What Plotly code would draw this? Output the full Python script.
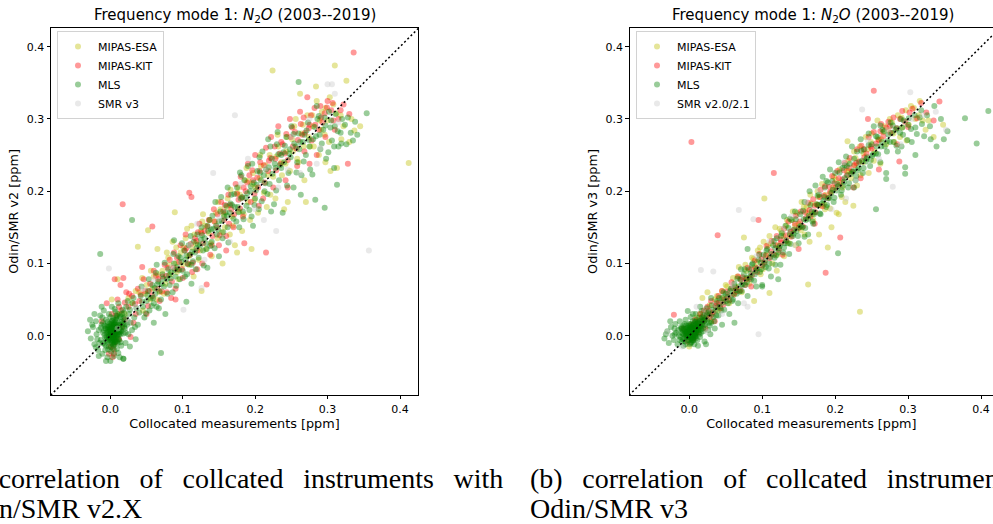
import plotly.graph_objects as go

# Odin/SMR v2 panel: (collocated, SMR v2) pairs in ppm
esa_v2 = [(0.002, 0.050), (0.010, 0.078), (0.020, 0.030), (0.030, 0.045), (0.038, 0.123), (0.040, 0.060),
          (0.045, 0.035), (0.050, 0.070), (0.052, 0.146), (0.055, 0.050), (0.060, 0.082), (0.065, 0.120),
          (0.068, 0.060), (0.072, 0.090), (0.076, 0.072), (0.080, 0.108), (0.083, 0.085), (0.086, 0.130),
          (0.089, 0.171), (0.090, 0.100), (0.094, 0.078), (0.097, 0.115), (0.100, 0.098), (0.104, 0.135),
          (0.108, 0.110), (0.112, 0.152), (0.115, 0.082), (0.118, 0.128), (0.122, 0.105), (0.125, 0.145),
          (0.128, 0.168), (0.132, 0.120), (0.136, 0.142), (0.140, 0.110), (0.144, 0.158), (0.148, 0.135),
          (0.152, 0.175), (0.155, 0.100), (0.158, 0.150), (0.162, 0.190), (0.165, 0.140), (0.168, 0.165),
          (0.172, 0.125), (0.175, 0.198), (0.178, 0.172), (0.182, 0.145), (0.186, 0.215), (0.190, 0.185),
          (0.193, 0.160), (0.197, 0.225), (0.200, 0.205), (0.204, 0.170), (0.208, 0.235), (0.212, 0.198),
          (0.216, 0.178), (0.220, 0.250), (0.224, 0.367), (0.225, 0.220), (0.228, 0.190), (0.232, 0.262),
          (0.236, 0.240), (0.240, 0.175), (0.244, 0.275), (0.248, 0.228), (0.252, 0.255), (0.256, 0.300),
          (0.260, 0.240), (0.264, 0.280), (0.268, 0.215), (0.272, 0.305), (0.276, 0.262), (0.280, 0.290),
          (0.284, 0.345), (0.288, 0.250), (0.292, 0.310), (0.296, 0.278), (0.300, 0.298), (0.304, 0.228),
          (0.308, 0.320), (0.310, 0.374), (0.313, 0.232), (0.318, 0.305), (0.326, 0.353), (0.330, 0.268),
          (0.337, 0.284), (0.412, 0.239), (0.345, 0.290), (0.285, 0.325), (0.175, 0.115), (0.245, 0.185),
          (0.126, 0.062), (0.048, 0.058), (0.058, 0.065), (0.066, 0.085), (0.074, 0.058), (0.082, 0.098),
          (0.092, 0.088), (0.101, 0.122), (0.109, 0.098), (0.116, 0.140), (0.124, 0.118), (0.131, 0.152),
          (0.139, 0.128), (0.146, 0.170), (0.154, 0.143), (0.161, 0.178), (0.169, 0.152), (0.177, 0.205),
          (0.184, 0.168), (0.191, 0.214), (0.199, 0.188), (0.206, 0.218), (0.214, 0.236), (0.221, 0.195),
          (0.229, 0.248), (0.237, 0.222), (0.243, 0.255), (0.251, 0.272), (0.258, 0.245), (0.266, 0.292),
          (0.274, 0.275), (0.281, 0.262), (0.289, 0.298), (0.297, 0.315), (0.302, 0.268), (0.312, 0.308),
          (0.322, 0.290), (0.262, 0.335), (0.195, 0.120), (0.270, 0.185), (0.012, 0.030), (0.025, 0.052),
          (0.035, 0.062), (0.044, 0.080), (0.056, 0.090), (0.064, 0.050), (0.078, 0.115), (0.091, 0.122),
          (0.106, 0.148), (0.113, 0.122), (0.127, 0.158), (0.137, 0.160), (0.149, 0.185), (0.157, 0.168),
          (0.166, 0.202), (0.179, 0.195), (0.188, 0.232), (0.196, 0.210), (0.207, 0.250), (0.218, 0.222),
          (0.231, 0.278), (0.242, 0.238), (0.254, 0.290), (0.267, 0.262), (0.279, 0.305), (0.291, 0.285),
          (0.303, 0.330), (0.319, 0.272), (0.333, 0.300), (0.297, 0.240)]

kit_v2 = [(-0.012, 0.020), (-0.005, 0.045), (0.000, -0.015), (0.002, 0.030), (0.005, -0.025), (0.008, 0.012),
          (0.010, 0.050), (0.012, -0.005), (0.015, 0.035), (0.018, 0.080), (0.020, 0.022), (0.022, 0.060),
          (0.025, 0.040), (0.028, -0.002), (0.030, 0.055), (0.003, -0.030), (0.006, 0.078), (0.014, 0.070),
          (0.035, 0.030), (0.038, 0.065), (0.040, 0.048), (0.044, 0.095), (0.048, 0.062), (0.050, 0.030),
          (0.055, 0.072), (0.058, 0.055), (0.060, 0.090), (0.065, 0.065), (0.068, 0.048), (0.072, 0.082),
          (0.075, 0.098), (0.078, 0.060), (0.082, 0.105), (0.085, 0.075), (0.088, 0.115), (0.090, 0.065),
          (0.093, 0.092), (0.097, 0.125), (0.100, 0.080), (0.104, 0.140), (0.107, 0.100), (0.110, 0.112),
          (0.113, 0.088), (0.117, 0.135), (0.120, 0.118), (0.123, 0.155), (0.127, 0.100), (0.130, 0.145),
          (0.133, 0.071), (0.136, 0.160), (0.140, 0.125), (0.143, 0.175), (0.147, 0.150), (0.150, 0.125),
          (0.153, 0.185), (0.157, 0.160), (0.160, 0.138), (0.163, 0.195), (0.167, 0.175), (0.170, 0.150),
          (0.173, 0.210), (0.177, 0.188), (0.180, 0.220), (0.183, 0.165), (0.187, 0.200), (0.190, 0.238),
          (0.194, 0.185), (0.197, 0.215), (0.200, 0.250), (0.204, 0.205), (0.207, 0.240), (0.211, 0.190),
          (0.215, 0.260), (0.215, 0.115), (0.218, 0.228), (0.222, 0.275), (0.225, 0.205), (0.228, 0.245),
          (0.232, 0.290), (0.235, 0.238), (0.238, 0.265), (0.242, 0.215), (0.245, 0.243), (0.248, 0.300),
          (0.252, 0.262), (0.255, 0.282), (0.258, 0.235), (0.262, 0.310), (0.265, 0.278), (0.268, 0.255),
          (0.272, 0.330), (0.275, 0.292), (0.278, 0.270), (0.282, 0.315), (0.285, 0.250), (0.290, 0.318),
          (0.293, 0.295), (0.297, 0.275), (0.300, 0.325), (0.305, 0.312), (0.310, 0.285), (0.315, 0.300),
          (0.322, 0.320), (0.330, 0.307), (0.328, 0.238), (0.336, 0.392), (0.017, 0.182), (0.109, 0.198),
          (0.112, 0.192), (0.058, 0.151), (0.185, 0.128), (0.005, 0.002), (-0.002, -0.025), (0.275, 0.238),
          (0.032, 0.018), (0.046, 0.078), (0.052, 0.041), (0.063, 0.083), (0.071, 0.061), (0.079, 0.094),
          (0.084, 0.052), (0.092, 0.108), (0.099, 0.092), (0.105, 0.121), (0.114, 0.101), (0.121, 0.143),
          (0.128, 0.128), (0.138, 0.112), (0.144, 0.158), (0.151, 0.139), (0.158, 0.181), (0.164, 0.155),
          (0.171, 0.168), (0.179, 0.176), (0.184, 0.205), (0.192, 0.222), (0.199, 0.196), (0.206, 0.228),
          (0.213, 0.212), (0.221, 0.246), (0.229, 0.229), (0.236, 0.268), (0.241, 0.252), (0.249, 0.275),
          (0.257, 0.259), (0.263, 0.293), (0.269, 0.281), (0.277, 0.305), (0.283, 0.292), (0.291, 0.302),
          (0.299, 0.316), (0.308, 0.298), (0.318, 0.312), (0.245, 0.205), (0.205, 0.180), (0.160, 0.118),
          (0.120, 0.092), (0.090, 0.050), (0.004, -0.018), (0.006, -0.010), (0.008, 0.028), (0.012, 0.040),
          (0.016, 0.012), (0.020, 0.046), (0.026, 0.058), (0.034, 0.044), (0.042, 0.057), (0.054, 0.062),
          (0.066, 0.078), (0.077, 0.083), (0.087, 0.094), (0.095, 0.102), (0.103, 0.118), (0.111, 0.127),
          (0.119, 0.131), (0.126, 0.142), (0.134, 0.151), (0.141, 0.138), (0.148, 0.168), (0.156, 0.172),
          (0.165, 0.181), (0.175, 0.196), (0.182, 0.191), (0.189, 0.212), (0.196, 0.229), (0.203, 0.219),
          (0.212, 0.236), (0.219, 0.242), (0.227, 0.262), (0.234, 0.252), (0.243, 0.279), (0.251, 0.288),
          (0.259, 0.271), (0.267, 0.302), (0.274, 0.287), (0.288, 0.285), (0.296, 0.308), (0.307, 0.322)]

mls_v2 = [(-0.031, 0.006), (-0.027, -0.004), (-0.024, 0.012), (-0.022, -0.012), (-0.020, 0.020), (-0.019, 0.002),
          (-0.017, -0.020), (-0.016, 0.008), (-0.014, 0.028), (-0.013, -0.006), (-0.012, 0.015), (-0.011, -0.025),
          (-0.010, 0.004), (-0.009, 0.035), (-0.008, -0.012), (-0.007, 0.010), (-0.006, 0.022), (-0.005, -0.002),
          (-0.004, -0.030), (-0.004, 0.014), (-0.003, 0.005), (-0.002, -0.015), (-0.002, 0.030), (-0.001, 0.000),
          (0.000, 0.009), (0.000, -0.008), (0.001, 0.018), (0.001, -0.022), (0.002, 0.003), (0.002, 0.040),
          (0.003, -0.004), (0.003, 0.012), (0.004, 0.025), (0.004, -0.012), (0.005, 0.006), (0.005, -0.028),
          (0.006, 0.016), (0.006, 0.001), (0.007, 0.033), (0.007, -0.008), (0.008, 0.010), (0.009, 0.022),
          (0.009, -0.018), (0.010, 0.004), (0.011, 0.045), (0.012, 0.014), (0.012, -0.006), (0.013, 0.028),
          (0.014, 0.008), (0.015, -0.014), (0.016, 0.020), (0.017, 0.036), (0.018, -0.032), (0.018, 0.003),
          (0.019, 0.012), (0.020, 0.025), (0.021, -0.010), (0.022, 0.040), (0.023, 0.015), (0.025, 0.002),
          (0.026, 0.030), (0.028, 0.018), (0.030, 0.008), (0.031, 0.045), (0.033, 0.025), (0.035, -0.005),
          (0.036, 0.038), (0.038, 0.015), (-0.015, -0.010), (-0.025, 0.015), (0.000, -0.035), (-0.006, -0.035),
          (0.001, 0.002), (0.003, 0.007), (-0.002, 0.004), (0.004, -0.003), (0.000, 0.012), (0.006, -0.006),
          (-0.004, -0.008), (0.008, 0.004), (0.002, -0.011), (-0.006, 0.010), (0.005, 0.015), (0.010, -0.002),
          (-0.001, -0.004), (0.007, 0.019), (-0.008, 0.001), (0.012, 0.008), (0.003, 0.021), (-0.003, -0.019),
          (0.009, 0.012), (0.014, 0.002), (-0.010, 0.018), (0.016, 0.030), (-0.018, -0.005), (0.020, 0.010),
          (-0.022, 0.030), (0.024, 0.048), (0.027, -0.015), (-0.028, 0.022), (0.032, 0.052), (0.034, 0.012),
          (0.000, 0.026), (0.006, 0.037), (-0.012, 0.040), (0.011, -0.024), (-0.016, -0.028), (0.013, -0.030),
          (0.002, 0.001), (0.004, 0.004), (0.001, -0.003), (0.005, 0.001), (-0.001, 0.006), (0.003, -0.006),
          (0.006, 0.008), (0.000, 0.003), (0.007, -0.002), (-0.003, 0.001), (0.002, 0.009), (0.004, -0.009),
          (0.008, 0.006), (-0.002, -0.006), (0.005, 0.012), (0.001, 0.014), (0.009, 0.001), (-0.005, 0.004),
          (0.006, -0.012), (0.003, 0.017), (0.010, 0.010), (-0.004, 0.012), (0.011, -0.005), (-0.007, -0.003),
          (0.013, 0.015), (0.001, -0.016), (0.008, 0.024), (-0.009, 0.007), (0.015, 0.006), (0.004, 0.002),
          (0.002, 0.005), (0.006, 0.003), (0.000, -0.001), (0.003, 0.011), (0.005, -0.004), (0.007, 0.013),
          (-0.001, 0.009), (0.009, -0.008), (0.012, 0.002), (-0.006, -0.014), (0.014, -0.009), (0.017, 0.017),
          (-0.011, 0.025), (0.019, 0.032), (0.021, 0.004), (-0.013, 0.011), (0.024, 0.020), (0.027, 0.036),
          (-0.020, -0.016), (0.010, 0.030), (0.003, 0.000), (0.001, 0.004), (0.004, 0.008), (0.005, -0.002),
          (0.002, -0.007), (0.006, 0.005), (0.000, 0.007), (0.007, 0.010), (-0.002, -0.002), (0.003, 0.014),
          (0.008, -0.004), (0.001, 0.010), (0.005, 0.018), (-0.003, 0.008), (0.009, 0.006), (0.004, -0.014),
          (0.010, 0.015), (-0.005, -0.006), (0.002, 0.020), (0.011, 0.002), (0.006, -0.009), (-0.001, 0.016),
          (0.012, 0.011), (0.007, 0.022), (-0.004, 0.019), (0.013, 0.005), (0.003, 0.004), (0.004, 0.001),
          (0.002, 0.006), (0.005, 0.009), (0.001, 0.000), (0.006, 0.012), (0.003, -0.002), (0.008, 0.015),
          (-0.002, 0.012), (0.010, -0.010), (0.015, 0.019), (-0.008, 0.014), (0.016, 0.011), (0.018, 0.024),
          (0.009, 0.027), (-0.007, -0.020), (0.005, -0.020), (0.014, 0.026), (-0.010, -0.010), (0.020, 0.016),
          (0.040, 0.032), (0.042, 0.055), (0.045, 0.040), (0.047, 0.025), (0.050, 0.048), (0.052, 0.062),
          (0.054, 0.035), (0.056, 0.052), (0.058, 0.070), (0.060, 0.045), (0.062, 0.058), (0.064, 0.040),
          (0.066, 0.075), (0.068, 0.062), (0.070, 0.050), (0.072, 0.085), (0.074, 0.068), (0.076, 0.030),
          (0.078, 0.078), (0.080, 0.092), (0.082, 0.070), (0.084, 0.088), (0.086, 0.060), (0.088, 0.100),
          (0.090, 0.082), (0.092, 0.095), (0.094, 0.110), (0.096, 0.078), (0.098, 0.102), (0.100, 0.090),
          (0.102, 0.118), (0.104, 0.105), (0.106, 0.085), (0.108, 0.125), (0.110, 0.112), (0.112, 0.098),
          (0.115, 0.130), (0.117, 0.115), (0.120, 0.140), (0.122, 0.108), (0.124, 0.125), (0.126, 0.150),
          (0.128, 0.118), (0.130, 0.135), (0.133, 0.120), (0.135, 0.145), (0.137, 0.160), (0.140, 0.130),
          (0.142, 0.148), (0.145, 0.185), (0.147, 0.140), (0.150, 0.158), (0.152, 0.172), (0.155, 0.135),
          (0.157, 0.165), (0.160, 0.180), (0.162, 0.150), (0.165, 0.170), (0.167, 0.195), (0.170, 0.162),
          (0.172, 0.178), (0.175, 0.205), (0.178, 0.150), (0.180, 0.190), (0.183, 0.172), (0.185, 0.215),
          (0.188, 0.180), (0.190, 0.235), (0.193, 0.200), (0.195, 0.165), (0.198, 0.212), (0.200, 0.190),
          (0.203, 0.228), (0.205, 0.175), (0.208, 0.215), (0.210, 0.255), (0.213, 0.200), (0.215, 0.230),
          (0.218, 0.272), (0.220, 0.210), (0.223, 0.245), (0.226, 0.182), (0.228, 0.232), (0.230, 0.265),
          (0.233, 0.215), (0.236, 0.250), (0.238, 0.170), (0.240, 0.240), (0.243, 0.275), (0.246, 0.225),
          (0.248, 0.258), (0.250, 0.290), (0.253, 0.205), (0.256, 0.262), (0.258, 0.240), (0.260, 0.280),
          (0.263, 0.195), (0.266, 0.268), (0.270, 0.250), (0.273, 0.295), (0.276, 0.230), (0.280, 0.272),
          (0.283, 0.188), (0.286, 0.300), (0.290, 0.258), (0.294, 0.285), (0.298, 0.245), (0.302, 0.310),
          (0.306, 0.270), (0.310, 0.290), (0.315, 0.262), (0.320, 0.300), (0.326, 0.265), (0.335, 0.270),
          (0.341, 0.278), (0.354, 0.308), (0.296, 0.177), (0.313, 0.209), (0.260, 0.351), (0.030, 0.160),
          (-0.014, 0.113), (0.070, -0.024), (0.018, -0.032), (0.105, 0.047), (0.060, 0.018), (0.150, 0.110),
          (0.043, 0.068), (0.049, 0.031), (0.053, 0.078), (0.057, 0.041), (0.061, 0.066), (0.063, 0.087),
          (0.067, 0.038), (0.071, 0.072), (0.075, 0.101), (0.079, 0.058), (0.083, 0.079), (0.087, 0.113),
          (0.091, 0.069), (0.095, 0.091), (0.099, 0.128), (0.103, 0.082), (0.107, 0.099), (0.111, 0.138),
          (0.114, 0.103), (0.118, 0.092), (0.121, 0.126), (0.125, 0.133), (0.129, 0.097), (0.134, 0.152),
          (0.138, 0.124), (0.141, 0.166), (0.144, 0.121), (0.149, 0.147), (0.153, 0.192), (0.156, 0.143),
          (0.159, 0.171), (0.163, 0.129), (0.166, 0.183), (0.171, 0.196), (0.174, 0.158), (0.177, 0.171),
          (0.181, 0.222), (0.184, 0.161), (0.189, 0.197), (0.192, 0.174), (0.196, 0.238), (0.199, 0.181),
          (0.202, 0.209), (0.206, 0.247), (0.209, 0.186), (0.212, 0.222), (0.217, 0.196), (0.221, 0.262),
          (0.224, 0.224), (0.229, 0.201), (0.232, 0.251), (0.236, 0.232), (0.241, 0.263), (0.244, 0.208),
          (0.249, 0.247), (0.253, 0.279), (0.257, 0.226), (0.262, 0.268), (0.267, 0.241), (0.271, 0.284),
          (0.275, 0.262), (0.279, 0.223), (0.284, 0.276), (0.288, 0.304), (0.292, 0.266), (0.297, 0.291),
          (0.301, 0.254), (0.305, 0.298), (0.309, 0.232), (0.314, 0.283), (0.319, 0.266), (0.324, 0.292),
          (0.332, 0.281), (0.044, 0.047), (0.051, 0.056), (0.059, 0.052), (0.065, 0.071), (0.073, 0.079),
          (0.081, 0.084), (0.089, 0.091), (0.097, 0.108), (0.105, 0.111), (0.113, 0.116), (0.119, 0.121),
          (0.127, 0.139), (0.132, 0.128), (0.139, 0.147), (0.146, 0.152), (0.154, 0.159), (0.161, 0.166),
          (0.168, 0.181), (0.176, 0.178), (0.182, 0.192), (0.187, 0.191), (0.194, 0.207), (0.201, 0.201),
          (0.207, 0.226), (0.214, 0.211), (0.219, 0.233), (0.227, 0.238), (0.234, 0.236), (0.239, 0.254),
          (0.247, 0.252), (0.254, 0.266), (0.261, 0.258), (0.268, 0.278), (0.274, 0.271), (0.282, 0.289),
          (0.289, 0.278), (0.296, 0.302), (0.304, 0.288), (0.311, 0.307), (0.318, 0.281), (0.328, 0.302),
          (0.338, 0.296), (0.088, 0.132), (0.134, 0.094), (0.162, 0.205), (0.197, 0.152), (0.231, 0.282),
          (0.264, 0.222), (0.285, 0.318), (0.309, 0.262), (0.064, 0.098), (0.112, 0.072), (0.179, 0.226),
          (0.222, 0.172)]

smr3_v2 = [(-0.002, 0.093), (0.101, 0.036), (0.126, 0.066), (0.142, 0.225), (0.172, 0.305), (0.229, 0.145),
           (0.300, 0.348), (0.306, 0.348), (0.357, 0.118), (0.035, 0.040), (0.060, 0.078), (0.085, 0.095),
           (0.110, 0.125), (0.130, 0.105), (0.150, 0.162), (0.165, 0.130), (0.180, 0.210), (0.200, 0.175),
           (0.215, 0.232), (0.232, 0.205), (0.250, 0.275), (0.262, 0.225), (0.275, 0.300), (0.290, 0.260),
           (0.310, 0.335), (0.315, 0.295), (0.010, 0.010), (0.025, 0.020), (0.045, 0.065), (0.190, 0.245),
           (0.245, 0.230), (0.285, 0.238), (0.212, 0.160), (0.120, 0.155)]

# Odin/SMR v3 panel
esa_v3 = [(0.000, -0.015), (0.010, 0.025), (0.018, 0.052), (0.025, 0.060), (0.030, 0.020), (0.035, 0.050),
          (0.040, 0.035), (0.045, 0.062), (0.050, 0.070), (0.055, 0.045), (0.060, 0.080), (0.064, 0.068),
          (0.068, 0.095), (0.072, 0.060), (0.075, 0.136), (0.078, 0.090), (0.082, 0.072), (0.086, 0.108),
          (0.089, 0.048), (0.090, 0.095), (0.094, 0.118), (0.098, 0.085), (0.102, 0.130), (0.103, 0.190),
          (0.106, 0.112), (0.110, 0.059), (0.110, 0.138), (0.114, 0.100), (0.118, 0.150), (0.122, 0.125),
          (0.126, 0.145), (0.130, 0.110), (0.134, 0.160), (0.138, 0.138), (0.142, 0.172), (0.146, 0.125),
          (0.150, 0.155), (0.154, 0.185), (0.158, 0.140), (0.162, 0.170), (0.163, 0.071), (0.166, 0.195),
          (0.170, 0.160), (0.174, 0.182), (0.178, 0.140), (0.182, 0.210), (0.186, 0.175), (0.190, 0.122),
          (0.194, 0.198), (0.198, 0.220), (0.202, 0.170), (0.206, 0.230), (0.210, 0.205), (0.214, 0.185),
          (0.217, 0.269), (0.218, 0.242), (0.222, 0.218), (0.226, 0.255), (0.230, 0.208), (0.234, 0.033),
          (0.234, 0.262), (0.238, 0.240), (0.242, 0.275), (0.246, 0.225), (0.250, 0.280), (0.254, 0.255),
          (0.258, 0.298), (0.262, 0.238), (0.266, 0.282), (0.270, 0.265), (0.275, 0.300), (0.280, 0.280),
          (0.286, 0.305), (0.292, 0.288), (0.298, 0.270), (0.304, 0.318), (0.310, 0.300), (0.316, 0.325),
          (0.324, 0.285), (0.335, 0.275), (0.348, 0.292), (0.180, 0.180), (0.225, 0.180), (0.046, 0.052),
          (0.062, 0.058), (0.079, 0.079), (0.093, 0.102), (0.101, 0.092), (0.108, 0.125), (0.121, 0.112),
          (0.129, 0.138), (0.137, 0.128), (0.145, 0.152), (0.153, 0.146), (0.161, 0.178), (0.169, 0.168),
          (0.177, 0.192), (0.185, 0.182), (0.193, 0.176), (0.201, 0.216), (0.209, 0.192), (0.219, 0.228),
          (0.227, 0.236), (0.235, 0.222), (0.245, 0.258), (0.253, 0.242), (0.263, 0.272), (0.272, 0.285),
          (0.281, 0.268), (0.291, 0.302), (0.301, 0.292), (0.315, 0.305), (0.328, 0.298), (0.205, 0.168),
          (0.195, 0.150), (0.015, 0.030), (0.028, 0.042), (0.038, 0.055), (0.052, 0.068), (0.066, 0.082),
          (0.077, 0.098), (0.088, 0.106), (0.097, 0.122), (0.112, 0.128), (0.124, 0.148), (0.133, 0.152),
          (0.141, 0.160), (0.148, 0.170), (0.157, 0.178), (0.167, 0.183), (0.176, 0.200), (0.187, 0.195),
          (0.197, 0.205), (0.207, 0.212), (0.216, 0.228), (0.228, 0.246), (0.239, 0.252), (0.249, 0.268),
          (0.259, 0.272), (0.268, 0.290), (0.278, 0.295), (0.289, 0.275), (0.297, 0.312), (0.308, 0.315),
          (0.320, 0.298), (0.165, 0.130), (0.120, 0.090)]

kit_v3 = [(-0.021, 0.029), (-0.008, 0.010), (-0.002, -0.008), (0.003, 0.015), (0.008, 0.022), (0.012, 0.005),
          (0.015, 0.030), (0.018, 0.018), (0.020, 0.035), (0.022, 0.010), (0.025, 0.040), (0.028, 0.025),
          (0.030, 0.048), (0.033, 0.032), (0.035, 0.020), (0.038, 0.045), (0.040, 0.055), (0.043, 0.038),
          (0.045, 0.062), (0.048, 0.050), (0.001, 0.004), (0.006, -0.004), (0.010, 0.016), (0.014, 0.012),
          (0.024, 0.028), (0.052, 0.061), (0.055, 0.049), (0.058, 0.074), (0.061, 0.057), (0.064, 0.066),
          (0.067, 0.082), (0.070, 0.063), (0.073, 0.081), (0.076, 0.070), (0.080, 0.094), (0.083, 0.079),
          (0.086, 0.084), (0.090, 0.104), (0.093, 0.088), (0.096, 0.113), (0.100, 0.097), (0.103, 0.101),
          (0.106, 0.124), (0.110, 0.107), (0.113, 0.131), (0.116, 0.112), (0.120, 0.138), (0.123, 0.119),
          (0.126, 0.129), (0.130, 0.148), (0.133, 0.131), (0.136, 0.158), (0.140, 0.137), (0.143, 0.146),
          (0.146, 0.166), (0.150, 0.149), (0.153, 0.172), (0.156, 0.151), (0.160, 0.163), (0.163, 0.184),
          (0.166, 0.165), (0.170, 0.189), (0.173, 0.171), (0.176, 0.181), (0.180, 0.202), (0.183, 0.179),
          (0.186, 0.207), (0.190, 0.191), (0.193, 0.199), (0.196, 0.221), (0.200, 0.204), (0.203, 0.228),
          (0.206, 0.209), (0.210, 0.216), (0.213, 0.239), (0.216, 0.222), (0.220, 0.246), (0.223, 0.227),
          (0.226, 0.236), (0.230, 0.258), (0.233, 0.241), (0.236, 0.263), (0.240, 0.247), (0.243, 0.252),
          (0.246, 0.275), (0.250, 0.259), (0.253, 0.282), (0.256, 0.266), (0.260, 0.271), (0.263, 0.293),
          (0.266, 0.276), (0.270, 0.288), (0.273, 0.296), (0.276, 0.281), (0.280, 0.302), (0.284, 0.287),
          (0.288, 0.241), (0.292, 0.311), (0.296, 0.296), (0.300, 0.289), (0.306, 0.314), (0.312, 0.301),
          (0.318, 0.322), (0.325, 0.309), (0.335, 0.298), (0.343, 0.324), (0.003, 0.268), (0.253, 0.339),
          (0.187, 0.087), (0.207, 0.136), (0.116, 0.225), (0.039, 0.139), (0.095, 0.160), (0.150, 0.120),
          (0.260, 0.230), (0.225, 0.205), (0.172, 0.155), (0.128, 0.112), (0.085, 0.068), (0.235, 0.218),
          (0.285, 0.265), (0.245, 0.300), (0.005, 0.008), (0.009, 0.003), (0.013, 0.020), (0.017, 0.026),
          (0.021, 0.022), (0.027, 0.034), (0.031, 0.029), (0.036, 0.041), (0.041, 0.046), (0.047, 0.043),
          (0.053, 0.054), (0.059, 0.066), (0.065, 0.061), (0.071, 0.077), (0.078, 0.078), (0.085, 0.092),
          (0.092, 0.094), (0.099, 0.106), (0.105, 0.111), (0.112, 0.117), (0.119, 0.125), (0.125, 0.133),
          (0.132, 0.139), (0.139, 0.144), (0.145, 0.155), (0.152, 0.158), (0.159, 0.171), (0.165, 0.174),
          (0.172, 0.180), (0.179, 0.192), (0.185, 0.194), (0.192, 0.206), (0.199, 0.211), (0.205, 0.218),
          (0.212, 0.229), (0.219, 0.232), (0.229, 0.239), (0.239, 0.258), (0.249, 0.262), (0.262, 0.283),
          (0.275, 0.290), (0.289, 0.300), (0.302, 0.309)]

mls_v3 = [(-0.034, -0.004), (-0.030, 0.006), (-0.028, -0.010), (-0.025, 0.012), (-0.023, 0.000), (-0.021, -0.006),
          (-0.019, 0.016), (-0.018, 0.004), (-0.016, -0.012), (-0.015, 0.008), (-0.013, 0.020), (-0.012, -0.002),
          (-0.011, 0.010), (-0.010, -0.008), (-0.009, 0.003), (-0.008, 0.014), (-0.007, -0.004), (-0.006, 0.006),
          (-0.005, 0.022), (-0.005, -0.012), (-0.004, 0.001), (-0.003, 0.010), (-0.002, -0.006), (-0.001, 0.004),
          (0.000, 0.016), (0.000, -0.002), (0.001, 0.008), (0.002, -0.010), (0.002, 0.026), (0.003, 0.002),
          (0.004, 0.012), (0.005, -0.004), (0.005, 0.020), (0.006, 0.006), (0.007, -0.012), (0.008, 0.014),
          (0.008, 0.001), (0.009, 0.030), (0.010, 0.008), (0.011, -0.006), (0.012, 0.018), (0.013, 0.004),
          (0.014, 0.025), (0.015, -0.002), (0.016, 0.012), (0.017, 0.034), (0.018, 0.020), (0.019, 0.006),
          (0.020, 0.028), (0.021, -0.008), (0.022, 0.015), (0.024, 0.038), (0.025, 0.022), (0.026, 0.008),
          (0.028, 0.030), (0.030, 0.018), (0.031, 0.042), (0.033, 0.026), (0.035, 0.010), (0.036, 0.035),
          (0.038, 0.048), (0.040, 0.028), (0.023, -0.012), (-0.026, 0.020), (0.012, -0.014), (-0.002, 0.034),
          (0.029, 0.002), (0.045, 0.015), (0.001, 0.001), (0.003, -0.003), (-0.002, 0.002), (0.004, 0.006),
          (0.000, -0.006), (0.006, 0.002), (-0.004, 0.005), (0.002, 0.010), (0.007, 0.004), (-0.003, -0.002),
          (0.009, -0.001), (0.010, 0.013), (-0.007, 0.009), (0.012, 0.010), (0.014, 0.016), (-0.010, 0.004),
          (0.016, 0.004), (0.018, 0.026), (0.020, 0.014), (-0.014, 0.000), (0.022, 0.022), (0.026, 0.032),
          (-0.020, 0.010), (0.028, 0.014), (0.032, 0.036), (0.034, 0.020), (0.037, 0.028), (-0.032, 0.002),
          (0.039, 0.040), (0.041, 0.052), (0.044, 0.035), (0.047, 0.060), (-0.008, -0.014), (0.005, 0.030),
          (0.015, 0.040), (0.030, 0.052), (0.002, 0.003), (0.004, 0.000), (0.001, 0.006), (0.005, 0.004),
          (-0.001, -0.001), (0.003, 0.008), (0.006, -0.002), (0.000, 0.005), (0.007, 0.007), (-0.003, 0.003),
          (0.002, -0.004), (0.004, 0.011), (0.008, 0.002), (-0.002, 0.008), (0.005, -0.007), (0.001, 0.013),
          (0.009, 0.009), (-0.005, -0.001), (0.006, 0.015), (0.003, -0.009), (0.010, 0.004), (-0.004, 0.014),
          (0.011, 0.016), (-0.007, 0.002), (0.013, 0.008), (0.001, -0.012), (0.008, 0.020), (-0.009, -0.005),
          (0.015, 0.013), (0.004, 0.005), (0.002, 0.000), (0.006, 0.009), (0.000, 0.002), (0.003, 0.004),
          (0.005, 0.010), (0.007, 0.001), (-0.001, 0.011), (0.009, -0.004), (0.012, 0.013), (-0.006, 0.016),
          (0.014, 0.002), (0.017, 0.022), (-0.011, 0.012), (0.019, 0.010), (0.021, 0.024), (-0.013, -0.006),
          (0.024, 0.030), (0.027, 0.018), (-0.020, 0.002), (0.010, 0.022), (0.003, 0.001), (0.001, 0.003),
          (0.004, 0.007), (0.005, 0.002), (0.002, -0.002), (0.006, 0.005), (0.000, 0.008), (0.007, 0.011),
          (-0.002, 0.000), (0.003, 0.012), (0.008, -0.001), (0.001, 0.009), (0.005, 0.014), (-0.003, 0.006),
          (0.009, 0.006), (0.004, -0.006), (0.010, 0.011), (-0.005, 0.003), (0.002, 0.016), (0.011, 0.007),
          (0.006, -0.006), (-0.001, 0.014), (0.012, 0.018), (0.007, 0.017), (-0.004, 0.010), (0.013, 0.012),
          (0.003, 0.005), (0.004, 0.003), (0.002, 0.007), (0.005, 0.007), (0.015, 0.020), (-0.008, 0.007),
          (0.016, 0.009), (0.018, 0.016), (0.009, 0.019), (-0.006, -0.008), (0.020, 0.020), (-0.010, 0.010),
          (0.042, 0.040), (0.045, 0.052), (0.048, 0.036), (0.050, 0.058),
          (0.053, 0.045), (0.055, 0.030), (0.057, 0.065), (0.060, 0.050), (0.062, 0.072), (0.065, 0.058),
          (0.067, 0.045), (0.070, 0.078), (0.072, 0.062), (0.075, 0.085), (0.077, 0.070), (0.080, 0.055),
          (0.082, 0.092), (0.085, 0.078), (0.087, 0.100), (0.090, 0.085), (0.092, 0.068), (0.095, 0.105),
          (0.097, 0.088), (0.100, 0.070), (0.102, 0.112), (0.105, 0.095), (0.107, 0.120), (0.110, 0.100),
          (0.112, 0.082), (0.115, 0.125), (0.117, 0.108), (0.120, 0.135), (0.122, 0.115), (0.125, 0.098),
          (0.127, 0.142), (0.130, 0.122), (0.132, 0.152), (0.135, 0.128), (0.137, 0.113), (0.140, 0.160),
          (0.142, 0.138), (0.145, 0.172), (0.147, 0.145), (0.150, 0.128), (0.152, 0.168), (0.155, 0.150),
          (0.158, 0.185), (0.160, 0.160), (0.163, 0.140), (0.165, 0.200), (0.168, 0.172), (0.170, 0.155),
          (0.173, 0.208), (0.175, 0.182), (0.178, 0.195), (0.180, 0.168), (0.183, 0.220), (0.185, 0.192),
          (0.188, 0.178), (0.190, 0.212), (0.193, 0.230), (0.195, 0.198), (0.198, 0.185), (0.200, 0.225),
          (0.203, 0.210), (0.205, 0.240), (0.208, 0.195), (0.210, 0.232), (0.213, 0.218), (0.215, 0.248),
          (0.218, 0.205), (0.220, 0.238), (0.223, 0.262), (0.225, 0.228), (0.228, 0.215), (0.230, 0.255),
          (0.233, 0.240), (0.235, 0.272), (0.238, 0.225), (0.240, 0.258), (0.243, 0.245), (0.246, 0.280),
          (0.248, 0.235), (0.250, 0.265), (0.253, 0.290), (0.256, 0.252), (0.258, 0.275), (0.262, 0.240),
          (0.265, 0.285), (0.268, 0.262), (0.270, 0.225), (0.273, 0.278), (0.276, 0.295), (0.280, 0.268),
          (0.283, 0.285), (0.286, 0.255), (0.290, 0.300), (0.293, 0.278), (0.296, 0.233), (0.300, 0.292),
          (0.305, 0.268), (0.310, 0.288), (0.316, 0.302), (0.322, 0.276), (0.330, 0.290), (0.345, 0.300),
          (0.354, 0.283), (0.378, 0.301), (0.394, 0.266), (0.410, 0.311), (0.256, 0.175), (0.204, 0.114),
          (0.296, 0.224), (0.270, 0.217), (0.310, 0.250), (0.080, 0.120), (0.130, 0.165), (0.062, 0.018),
          (0.100, 0.068), (0.122, 0.078), (0.051, 0.048), (0.056, 0.062), (0.059, 0.048), (0.063, 0.068),
          (0.066, 0.079), (0.069, 0.061), (0.073, 0.071), (0.076, 0.092), (0.079, 0.074), (0.083, 0.081),
          (0.086, 0.098), (0.089, 0.076), (0.093, 0.093), (0.096, 0.112), (0.099, 0.092), (0.103, 0.099),
          (0.106, 0.118), (0.109, 0.093), (0.113, 0.113), (0.116, 0.131), (0.119, 0.111), (0.123, 0.121),
          (0.126, 0.138), (0.129, 0.115), (0.133, 0.132), (0.136, 0.149), (0.139, 0.127), (0.143, 0.141),
          (0.146, 0.161), (0.149, 0.138), (0.153, 0.152), (0.156, 0.173), (0.159, 0.149), (0.163, 0.162),
          (0.166, 0.181), (0.169, 0.158), (0.172, 0.171), (0.176, 0.194), (0.179, 0.169), (0.182, 0.183),
          (0.186, 0.205), (0.189, 0.181), (0.192, 0.191), (0.196, 0.214), (0.199, 0.191), (0.202, 0.201),
          (0.206, 0.226), (0.209, 0.201), (0.212, 0.213), (0.216, 0.235), (0.219, 0.211), (0.222, 0.224),
          (0.226, 0.245), (0.229, 0.221), (0.232, 0.232), (0.236, 0.256), (0.239, 0.232), (0.242, 0.241),
          (0.246, 0.264), (0.249, 0.243), (0.252, 0.251), (0.256, 0.276), (0.259, 0.251), (0.263, 0.262),
          (0.267, 0.283), (0.271, 0.255), (0.275, 0.268), (0.279, 0.291), (0.284, 0.263), (0.289, 0.281),
          (0.294, 0.298), (0.299, 0.271), (0.304, 0.286), (0.312, 0.279), (0.319, 0.293), (0.331, 0.272),
          (0.339, 0.262), (0.349, 0.272), (0.046, 0.046), (0.052, 0.054), (0.058, 0.056), (0.064, 0.063),
          (0.071, 0.070), (0.078, 0.080), (0.084, 0.086), (0.091, 0.090), (0.098, 0.101), (0.104, 0.104),
          (0.111, 0.109), (0.118, 0.121), (0.124, 0.124), (0.131, 0.128), (0.138, 0.141), (0.144, 0.147),
          (0.151, 0.150), (0.157, 0.161), (0.164, 0.166), (0.171, 0.168), (0.177, 0.181), (0.184, 0.187),
          (0.191, 0.190), (0.197, 0.202), (0.204, 0.207), (0.211, 0.208), (0.217, 0.222), (0.224, 0.227),
          (0.231, 0.229), (0.237, 0.242), (0.244, 0.247), (0.251, 0.249), (0.257, 0.262), (0.264, 0.268),
          (0.271, 0.269), (0.278, 0.281), (0.285, 0.287), (0.292, 0.288), (0.301, 0.301), (0.309, 0.305),
          (0.318, 0.312), (0.326, 0.305), (0.336, 0.318), (0.071, 0.092), (0.118, 0.098), (0.158, 0.137),
          (0.188, 0.214), (0.226, 0.205), (0.262, 0.291), (0.291, 0.262), (0.138, 0.162), (0.213, 0.236)]

smr2_v3 = [(0.016, 0.091), (0.033, 0.089), (0.068, 0.174), (0.088, 0.161), (0.095, 0.002), (0.279, 0.206),
           (0.303, 0.337), (0.237, 0.313), (-0.030, 0.005), (-0.010, -0.015), (0.010, 0.040), (0.025, 0.005),
           (0.045, 0.030), (0.060, 0.070), (0.075, 0.045), (0.092, 0.110), (0.110, 0.130), (0.128, 0.148),
           (0.145, 0.125), (0.160, 0.185), (0.178, 0.200), (0.195, 0.175), (0.212, 0.240), (0.228, 0.215),
           (0.245, 0.270), (0.260, 0.245), (0.272, 0.285), (0.290, 0.265), (0.305, 0.300), (0.320, 0.305),
           (0.338, 0.310), (0.352, 0.285), (0.215, 0.190), (0.140, 0.165), (0.080, 0.040)]

colors = {
    "MIPAS-ESA": "rgb(191,191,0)",
    "MIPAS-KIT": "rgb(255,0,0)",
    "MLS": "rgb(0,128,0)",
    "SMR": "rgb(200,200,200)",
}

panels = [
    ("x", "y", "legend", [("MIPAS-ESA", esa_v2), ("MIPAS-KIT", kit_v2), ("MLS", mls_v2), ("SMR v3", smr3_v2)]),
    ("x2", "y2", "legend2", [("MIPAS-ESA", esa_v3), ("MIPAS-KIT", kit_v3), ("MLS", mls_v3), ("SMR v2.0/2.1", smr2_v3)]),
]

fig = go.Figure()
for xa, ya, leg, series in panels:
    for name, pts in series:
        xs, ys = zip(*pts)
        c = colors["SMR"] if name.startswith("SMR") else colors[name]
        fig.add_trace(go.Scatter(
            x=xs, y=ys, mode="markers", name=name, xaxis=xa, yaxis=ya, legend=leg,
            marker=dict(size=6, color=c, opacity=0.4, line=dict(width=0)),
        ))
    # 1:1 line
    fig.add_trace(go.Scatter(
        x=[-0.1, 0.45], y=[-0.1, 0.45], mode="lines", xaxis=xa, yaxis=ya, showlegend=False,
        line=dict(color="black", width=1.5, dash="2px,2.5px"),
    ))

ax = dict(
    showline=True, linecolor="black", linewidth=1, mirror=True, automargin=False,
    ticks="outside", ticklen=3.5, tickwidth=1, tickcolor="black",
    tick0=0, dtick=0.1, tickformat=".1f", showgrid=False, zeroline=False,
    tickfont=dict(size=11, color="black"),
)
ydom = [0.2462, 0.9466]
legend_style = dict(yanchor="top", xanchor="left", y=0.941, font=dict(size=11),
                    bordercolor="rgb(210,210,210)", borderwidth=1, bgcolor="rgba(255,255,255,0.8)")
fig.update_layout(
    width=993, height=524,
    margin=dict(l=0, r=0, t=0, b=0),
    paper_bgcolor="white", plot_bgcolor="white",
    font=dict(family="DejaVu Sans", color="black"),
    xaxis=dict(ax, domain=[0.0514, 0.4209], range=[-0.0819, 0.4248], anchor="y",
               title=dict(text="Collocated measurements [ppm]", font=dict(size=12.8), standoff=4)),
    yaxis=dict(ax, domain=ydom, range=[-0.0821, 0.4259], anchor="x",
               title=dict(text="Odin/SMR v2 [ppm]", font=dict(size=12.8), standoff=5)),
    xaxis2=dict(ax, domain=[0.6342, 1.0], range=[-0.0815, 0.4164], anchor="y2",
                title=dict(text="Collocated measurements [ppm]", font=dict(size=12.8), standoff=4)),
    yaxis2=dict(ax, domain=ydom, range=[-0.0821, 0.4259], anchor="x2", mirror=False,
                title=dict(text="Odin/SMR v3 [ppm]", font=dict(size=12.8), standoff=5)),
    legend=dict(legend_style, x=0.0574),
    legend2=dict(legend_style, x=0.6405),
)

title = "Frequency mode 1: <i>N</i><sub>2</sub><i>O</i> (2003--2019)"
cap = dict(family="Liberation Serif", size=28, color="black")
gap = "\u00a0\u00a0\u2009"
line1 = gap.join(["correlation", "of", "collcated", "instruments", "with"])
for cx in (234.5, 813):
    fig.add_annotation(text=title, x=cx / 993, y=0.9695, xref="paper", yref="paper",
                       showarrow=False, font=dict(size=15), xanchor="center", yanchor="middle")
fig.add_annotation(text="(a)" + gap + line1, x=505 / 993, y=(524 - 478) / 524,
                   xref="paper", yref="paper", showarrow=False, font=cap, xanchor="right", yanchor="middle")
fig.add_annotation(text="Odin/SMR v2.X", x=-45 / 993, y=(524 - 508) / 524, xref="paper", yref="paper",
                   showarrow=False, font=cap, xanchor="left", yanchor="middle")
fig.add_annotation(text="(b)" + gap + line1, x=528 / 993, y=(524 - 478) / 524,
                   xref="paper", yref="paper", showarrow=False, font=cap, xanchor="left", yanchor="middle")
fig.add_annotation(text="Odin/SMR v3", x=528 / 993, y=(524 - 508) / 524, xref="paper", yref="paper",
                   showarrow=False, font=cap, xanchor="left", yanchor="middle")

# the page's default 8px body margin would shift the whole figure
fig.write_html("out.html", config={"displayModeBar": False},
               post_script="document.body.style.margin = '0';")
